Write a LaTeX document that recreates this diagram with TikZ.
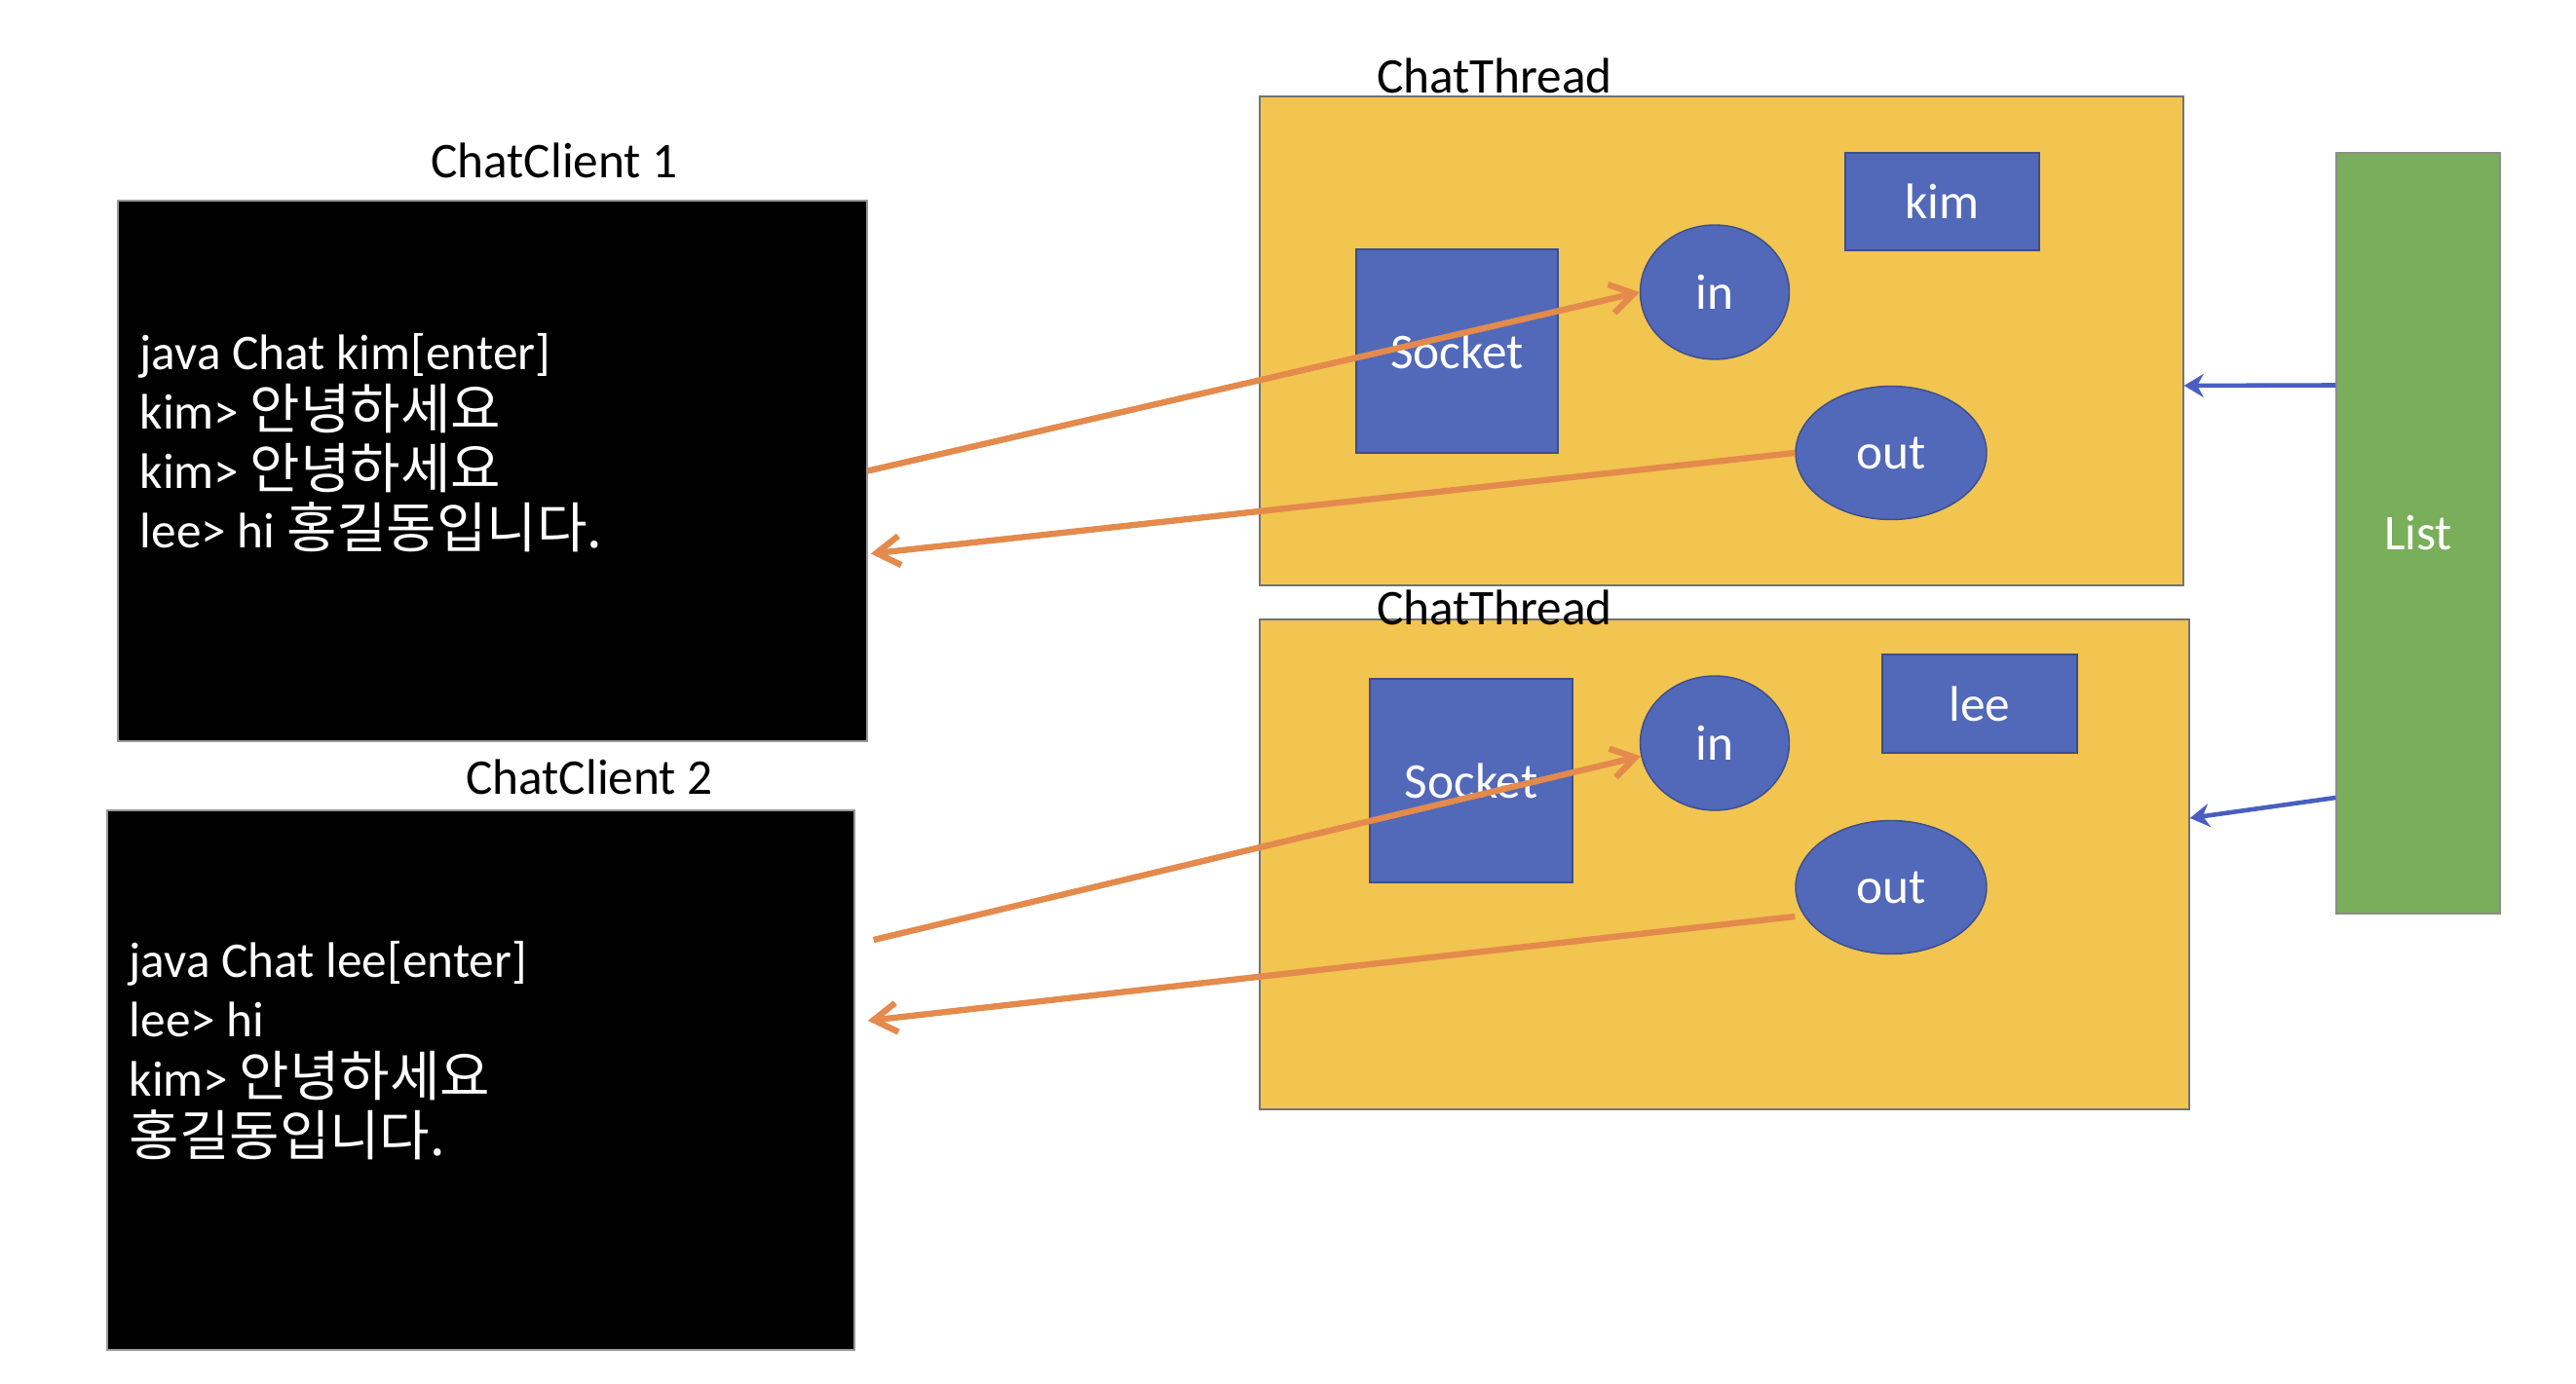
\documentclass[tikz,border=0pt]{standalone}
\usepackage{fontspec}
\setmainfont{Carlito}
\newfontfamily\kr[Scale=1.09]{Noto Sans CJK KR}
\usepackage{xcolor}
\usepackage{tikz}
\usetikzlibrary{positioning,arrows.meta,shapes.geometric}
\definecolor{threadyellow}{HTML}{F2C450}
\definecolor{partblue}{HTML}{5268B8}
\definecolor{partedge}{HTML}{3C4E8A}
\definecolor{listgreen}{HTML}{79AE5A}
\definecolor{linkorange}{HTML}{E38A4C}
\definecolor{feedblue}{HTML}{4A5EC2}

\begin{document}
\begin{tikzpicture}[
    font=\fontsize{14.6}{17.4}\selectfont,
    term/.style={draw=black!40,fill=black,inner sep=0},
    termtext/.style={text=white,align=left,anchor=west,inner sep=0},
    thread/.style={draw=black!55,fill=threadyellow,inner sep=0},
    part/.style={draw=partedge,fill=partblue,text=white,inner sep=0},
    link/.style={draw=linkorange,line width=1.8pt,-{Straight Barb[length=2.4mm,width=3mm]}},
    feed/.style={draw=feedblue,line width=1.3pt,-{Stealth[length=2mm,width=2.4mm]}}
]
    \useasboundingbox (0,0) rectangle (26.44,14.20);
    \node[term,minimum width=7.69cm,minimum height=5.55cm] (client1) at (5.055,9.365) {};
    \node (title1) at (5.69,12.55) {ChatClient 1};
    \node[termtext] (log1) at (1.43,9.655) {java Chat kim[enter]\\kim> {\kr 안녕하세요}\\kim> {\kr 안녕하세요}\\lee> hi {\kr 홍길동입니다.}};
    \node[term,minimum width=7.67cm,minimum height=5.54cm] (client2) at (4.935,3.11) {};
    \node (title2) at (6.05,6.22) {ChatClient 2};
    \node[termtext] (log2) at (1.32,3.415) {java Chat lee[enter]\\lee> hi\\kim> {\kr 안녕하세요}\\{\kr 홍길동입니다.}};

    \node[thread,minimum width=9.48cm,minimum height=5.02cm] (thread1) at (17.67,10.70) {};
    \node (tname1) at (15.34,13.42) {ChatThread};
    \node[part,minimum width=2.07cm,minimum height=2.09cm] (socket1) at (14.955,10.595) {Socket};
    \node[part,ellipse,minimum width=1.53cm,minimum height=1.38cm] (in1) at (17.60,11.20) {in};
    \node[part,minimum width=1.99cm,minimum height=1.00cm] (name1) at (19.935,12.13) {kim};
    \node[part,ellipse,minimum width=1.96cm,minimum height=1.37cm] (out1) at (19.41,9.55) {out};

    \node[thread,minimum width=9.54cm,minimum height=5.03cm] (thread2) at (17.70,5.325) {};
    \node (tname2) at (15.34,7.96) {ChatThread};
    \node[part,minimum width=2.08cm,minimum height=2.09cm] (socket2) at (15.10,6.185) {Socket};
    \node[part,ellipse,minimum width=1.53cm,minimum height=1.38cm] (in2) at (17.60,6.57) {in};
    \node[part,minimum width=2.00cm,minimum height=1.01cm] (name2) at (20.32,6.975) {lee};
    \node[part,ellipse,minimum width=1.96cm,minimum height=1.37cm] (out2) at (19.41,5.09) {out};

    \node[draw=black!45,fill=listgreen,text=white,inner sep=0,minimum width=1.68cm,minimum height=7.81cm] (list) at (24.82,8.725) {List};

    \draw[link] (client1.east) -- (in1.west);
    \draw[link] (out1.west) -- ([xshift=0.03cm,yshift=-0.85cm]client1.east);
    \draw[link] ([xshift=0.19cm,yshift=1.44cm]client2.east) -- (in2.190);
    \draw[link] ([yshift=-0.3cm]out2.west) -- ([xshift=0.13cm,yshift=0.61cm]client2.east);
    \draw[feed] ([yshift=1.52cm]list.west) -- ([yshift=-0.46cm]thread1.east);
    \draw[feed] ([yshift=-2.715cm]list.west) -- ([yshift=0.475cm]thread2.east);
\end{tikzpicture}
\end{document}
